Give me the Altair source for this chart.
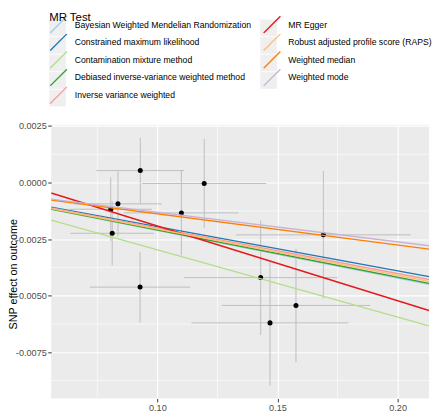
import altair as alt
import pandas as pd

# ---- data ----
beta_exp = [0.0929, 0.1195, 0.0836, 0.0806, 0.1100, 0.0812, 0.1691, 0.0928, 0.1430, 0.1577, 0.1469]
se_exp = [0.0183, 0.0258, 0.0183, 0.0171, 0.0239, 0.0174, 0.0363, 0.0209, 0.0320, 0.0309, 0.0327]
beta_out = [0.00053, -0.00004, -0.00094, -0.00118, -0.00134, -0.00224, -0.00231, -0.00462, -0.00420, -0.00543, -0.00620]
se_out = [0.00145, 0.00197, 0.00143, 0.00141, 0.00188, 0.00142, 0.00282, 0.00156, 0.00253, 0.00250, 0.00277]

methods = [
    "Bayesian Weighted Mendelian Randomization",
    "Constrained maximum likelihood",
    "Contamination mixture method",
    "Debiased inverse-variance weighted method",
    "Inverse variance weighted",
    "MR Egger",
    "Robust adjusted profile score (RAPS)",
    "Weighted median",
    "Weighted mode",
]
slopes = [-0.0211, -0.0195, -0.0297, -0.0209, -0.0201, -0.0330, -0.0205, -0.0138, -0.0131]
intercepts = [0.0, 0.0, 0.0, 0.0, 0.0, 0.00138, 0.0, 0.0, 0.0]
colors = ["#A6CEE3", "#1F78B4", "#B2DF8A", "#33A02C", "#FB9A99",
          "#E31A1C", "#FDBF6F", "#FF7F00", "#CAB2D6"]

x_ticks = [0.10, 0.15, 0.20]
y_ticks = [0.0025, 0.0, -0.0025, -0.0050, -0.0075]
x_minor = [0.075, 0.125, 0.175]
y_minor = [0.00125, -0.00125, -0.00375, -0.00625, -0.00875]
x_dom = [0.0558, 0.2131]
y_dom = [-0.00954, 0.00256]

FONT = "Liberation Sans"
KEY_GREY = "#EFEFEF"

pts = pd.DataFrame({"bx": beta_exp, "sx": se_exp, "by": beta_out, "sy": se_out})
pts["xlo"] = pts.bx - pts.sx
pts["xhi"] = pts.bx + pts.sx
pts["ylo"] = pts.by - pts.sy
pts["yhi"] = pts.by + pts.sy

lines = pd.DataFrame({
    "method": methods,
    "x0": [x_dom[0]] * len(methods),
    "x1": [x_dom[1]] * len(methods),
    "y0": [b + s * x_dom[0] for s, b in zip(slopes, intercepts)],
    "y1": [b + s * x_dom[1] for s, b in zip(slopes, intercepts)],
})
keys = pd.DataFrame({"key": methods})

xs = alt.Scale(domain=x_dom, nice=False, zero=False)
ys = alt.Scale(domain=y_dom, nice=False, zero=False)

xa = alt.Axis(values=x_ticks, format=".2f", title=None, grid=True, gridColor="white",
              gridWidth=1.1, domain=False, ticks=True, tickColor="#333333", tickSize=3.5,
              tickWidth=1, labelFont=FONT, labelFontSize=9.3, labelColor="#4D4D4D",
              labelPadding=1.5)
ya = alt.Axis(values=y_ticks,
              labelExpr="replace(format(datum.value, '.4f'), '\u2212', '-')",
              title="SNP effect on outcome", titleFont=FONT, titleFontSize=11,
              titleFontWeight="normal", titleColor="black",
              titleX=-35.5, titleY=152, titleAngle=270, titleAlign="center",
              titleBaseline="alphabetic",
              grid=True, gridColor="white", gridWidth=1.1, domain=False, ticks=True,
              tickColor="#333333", tickSize=3.5, tickWidth=1, labelFont=FONT,
              labelFontSize=9.3, labelColor="#4D4D4D", labelPadding=1.5)

gx = alt.Chart(pd.DataFrame({"v": x_minor})).mark_rule(color="white", strokeWidth=0.6).encode(
    x=alt.X("v:Q", scale=xs, axis=xa))
gy = alt.Chart(pd.DataFrame({"v": y_minor})).mark_rule(color="white", strokeWidth=0.6).encode(
    y=alt.Y("v:Q", scale=ys, axis=ya))

# grey key boxes behind the legend symbols (a second, label-less legend)
key_layer = alt.Chart(keys).mark_square(opacity=0, filled=True).encode(
    x=alt.value(0), y=alt.value(0),
    fill=alt.Fill("key:N", sort=methods,
                  scale=alt.Scale(range=[KEY_GREY] * len(methods)),
                  legend=alt.Legend(title=None, orient="none", legendX=-2, legendY=-107,
                                    columns=2, symbolType="square", symbolSize=289,
                                    symbolOpacity=1, symbolStrokeWidth=0,
                                    labelExpr="''", labelOffset=0, labelFontSize=8.8,
                                    rowPadding=0.85, columnPadding=198, padding=0,
                                    zindex=0)))

hbar = alt.Chart(pts).mark_rule(color="#BEBEBE", strokeWidth=1).encode(
    x=alt.X("xlo:Q", scale=xs, axis=xa), x2="xhi:Q", y=alt.Y("by:Q", scale=ys, axis=ya))
vbar = alt.Chart(pts).mark_rule(color="#BEBEBE", strokeWidth=1).encode(
    x=alt.X("bx:Q", scale=xs, axis=xa), y=alt.Y("ylo:Q", scale=ys, axis=ya), y2="yhi:Q")
dots = alt.Chart(pts).mark_circle(size=26, color="black", opacity=1).encode(
    x=alt.X("bx:Q", scale=xs, axis=xa), y=alt.Y("by:Q", scale=ys, axis=ya))

fits = alt.Chart(lines).mark_rule(strokeWidth=1.4, clip=True).encode(
    x=alt.X("x0:Q", scale=xs, axis=xa), x2="x1:Q",
    y=alt.Y("y0:Q", scale=ys, axis=ya), y2="y1:Q",
    color=alt.Color("method:N", scale=alt.Scale(domain=methods, range=colors),
                    legend=alt.Legend(title="MR Test", orient="none", legendX=-2, legendY=-115,
                                      columns=2, symbolType="M-1,1L1,-1", symbolSize=289,
                                      symbolStrokeWidth=1.4, labelFont=FONT, labelFontSize=8.8,
                                      labelOffset=7, labelLimit=400, labelColor="black",
                                      titleFont=FONT, titleFontSize=11.6,
                                      titleFontWeight="normal", titleColor="black",
                                      titlePadding=-7.5, clipHeight=17.85, rowPadding=0,
                                      columnPadding=11.5, padding=0, zindex=1)))

chart = alt.layer(gx, gy, key_layer, hbar, vbar, dots, fits).properties(
    width=385, height=279,
    autosize=alt.AutoSizeParams(type="none"),
    padding={"left": 44, "top": 115, "right": 3, "bottom": 12},
).configure_view(fill="#EBEBEB", stroke=None)

chart.save("out.html", embed_options={"renderer": "svg", "actions": False})
